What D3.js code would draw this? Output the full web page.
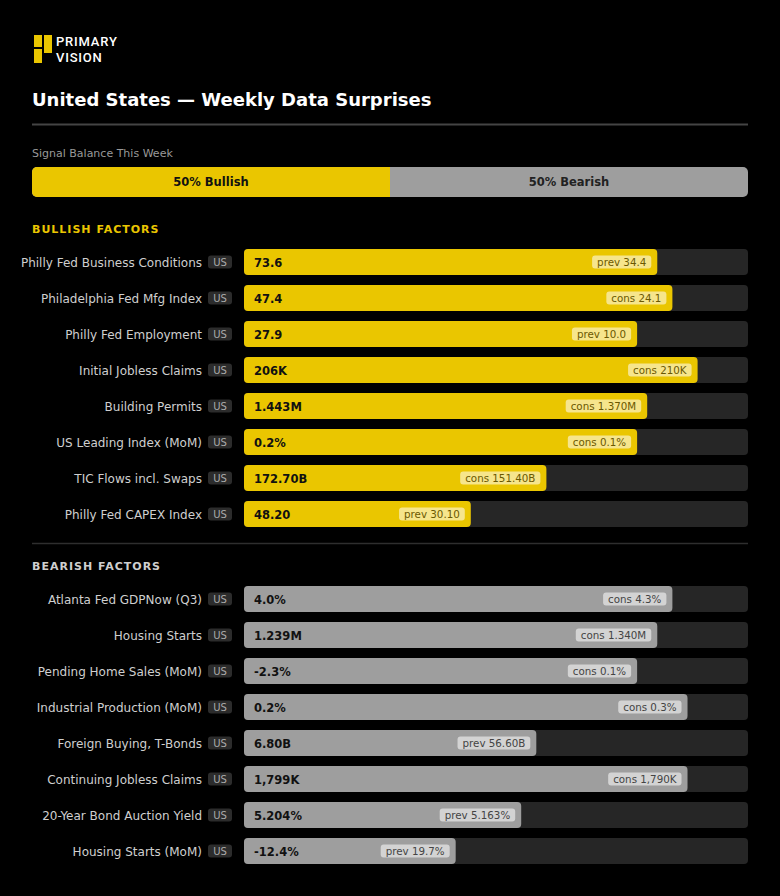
<!DOCTYPE html>
<html lang="en">
<head>
<meta charset="UTF-8">
<title>United States — Weekly Data Surprises</title>
<script src="https://cdn.jsdelivr.net/npm/d3@7"></script>
<style>
  body { margin: 0; background: #000; }
  svg { display: block; font-family: "DejaVu Sans", sans-serif; }
</style>
</head>
<body>
<svg width="780" height="896"></svg>
<script>
// bullish factors
var bullNames = ["Philly Fed Business Conditions", "Philadelphia Fed Mfg Index", "Philly Fed Employment",
  "Initial Jobless Claims", "Building Permits", "US Leading Index (MoM)", "TIC Flows incl. Swaps", "Philly Fed CAPEX Index"];
var bullValues = ["73.6", "47.4", "27.9", "206K", "1.443M", "0.2%", "172.70B", "48.20"];
var bullRefs = ["prev 34.4", "cons 24.1", "prev 10.0", "cons 210K", "cons 1.370M", "cons 0.1%", "cons 151.40B", "prev 30.10"];
var bullStrength = [82, 85, 78, 90, 80, 78, 60, 45];

// bearish factors
var bearNames = ["Atlanta Fed GDPNow (Q3)", "Housing Starts", "Pending Home Sales (MoM)", "Industrial Production (MoM)",
  "Foreign Buying, T-Bonds", "Continuing Jobless Claims", "20-Year Bond Auction Yield", "Housing Starts (MoM)"];
var bearValues = ["4.0%", "1.239M", "-2.3%", "0.2%", "6.80B", "1,799K", "5.204%", "-12.4%"];
var bearRefs = ["cons 4.3%", "cons 1.340M", "cons 0.1%", "cons 0.3%", "prev 56.60B", "cons 1,790K", "prev 5.163%", "prev 19.7%"];
var bearStrength = [85, 82, 78, 88, 58, 88, 55, 42];

var balance = [50, 50]; // bullish %, bearish %

var svg = d3.select("svg");
var YELLOW = "#eac600", GREY = "#9e9e9e";

// logo
var logo = svg.append("g");
logo.append("rect").attr("x", 34).attr("y", 35).attr("width", 8).attr("height", 12).attr("fill", YELLOW);
logo.append("rect").attr("x", 44).attr("y", 35).attr("width", 8).attr("height", 18).attr("fill", YELLOW);
logo.append("rect").attr("x", 34).attr("y", 49).attr("width", 8).attr("height", 14).attr("fill", YELLOW);
logo.append("text").attr("x", 56).attr("y", 46).text("PRIMARY").attr("letter-spacing", 0.8)
  .attr("fill", "#fff").attr("font-size", 13).attr("font-weight", 500).attr("font-family", "Roboto, sans-serif");
logo.append("text").attr("x", 56).attr("y", 61.5).text("VISION").attr("letter-spacing", 0.8)
  .attr("fill", "#fff").attr("font-size", 13).attr("font-weight", 500).attr("font-family", "Roboto, sans-serif");

// title
svg.append("text").attr("x", 32).attr("y", 106).text("United States — Weekly Data Surprises")
  .attr("fill", "#fff").attr("font-size", 18).attr("font-weight", "bold");
svg.append("line").attr("x1", 32).attr("x2", 748).attr("y1", 124.5).attr("y2", 124.5)
  .attr("stroke", "#444").attr("stroke-width", 2);

// balance bar
svg.append("text").attr("x", 32).attr("y", 157).text("Signal Balance This Week")
  .attr("fill", "#999").attr("font-size", 11);
var balX = d3.scaleLinear().domain([0, 100]).range([32, 748]);
svg.append("rect").attr("x", balX(0)).attr("y", 167).attr("width", balX(100) - balX(0)).attr("height", 30)
  .attr("rx", 5).attr("fill", GREY);
svg.append("rect").attr("x", balX(0)).attr("y", 167).attr("width", balX(balance[0]) - balX(0)).attr("height", 30)
  .attr("rx", 5).attr("fill", YELLOW);
svg.append("rect").attr("x", balX(balance[0]) - 6).attr("y", 167).attr("width", 6).attr("height", 30).attr("fill", YELLOW);
svg.append("text").attr("x", (balX(0) + balX(balance[0])) / 2).attr("y", 186).attr("text-anchor", "middle")
  .text(balance[0] + "% Bullish").attr("fill", "#111").attr("font-size", 11.5).attr("font-weight", "bold");
svg.append("text").attr("x", (balX(balance[0]) + balX(100)) / 2).attr("y", 186).attr("text-anchor", "middle")
  .text(balance[1] + "% Bearish").attr("fill", "#222").attr("font-size", 11.5).attr("font-weight", "bold");

var x = d3.scaleLinear().domain([0, 100]).range([0, 504]);
var trackX = 244;

function section(title, titleColor, titleY, top, names, values, refs, strength, fill, pillFill, pillText) {
  svg.append("text").attr("x", 32).attr("y", titleY).text(title)
    .attr("fill", titleColor).attr("font-size", 11).attr("font-weight", "bold").attr("letter-spacing", 1.0);

  var data = names.map(function(n, i) {
    return { name: n, value: values[i], ref: refs[i], strength: strength[i] };
  });
  var y = d3.scaleBand().domain(names).range([top, top + names.length * 36])
    .paddingInner(10 / 36).paddingOuter(5 / 36);

  var row = svg.append("g").selectAll("g").data(data).join("g")
    .attr("transform", function(d) { return "translate(0," + y(d.name) + ")"; });
  var h = y.bandwidth();

  row.append("text").attr("x", 202).attr("y", h / 2 + 4.5).attr("text-anchor", "end")
    .text(function(d) { return d.name; }).attr("fill", "#cfcfcf").attr("font-size", 12);
  row.append("rect").attr("x", 208).attr("y", h / 2 - 6.5).attr("width", 24).attr("height", 13).attr("rx", 3)
    .attr("fill", "#2c2c2c");
  row.append("text").attr("x", 220).attr("y", h / 2 + 3.5).attr("text-anchor", "middle").text("US")
    .attr("fill", "#aaa").attr("font-size", 10);

  row.append("rect").attr("x", trackX).attr("width", x(100)).attr("height", h).attr("rx", 4).attr("fill", "#262626");
  row.append("rect").attr("x", trackX).attr("width", function(d) { return x(d.strength); }).attr("height", h)
    .attr("rx", 4).attr("fill", fill);
  row.append("text").attr("x", trackX + 10).attr("y", h / 2 + 4.5).text(function(d) { return d.value; })
    .attr("fill", "#111").attr("font-size", 11.5).attr("font-weight", "bold");

  var pill = row.append("g");
  var pt = pill.append("text").attr("text-anchor", "end").attr("y", h / 2 + 4)
    .attr("x", function(d) { return trackX + x(d.strength) - 11; })
    .text(function(d) { return d.ref; }).attr("fill", pillText).attr("font-size", 10.3);
  pill.insert("rect", "text").attr("y", h / 2 - 6.5).attr("height", 13).attr("rx", 3).attr("fill", pillFill)
    .each(function(d, i) {
      var w = pt.nodes()[i].getComputedTextLength() + 10;
      d3.select(this).attr("x", trackX + x(d.strength) - 6 - w).attr("width", w);
    });
}

section("BULLISH FACTORS", YELLOW, 233, 244, bullNames, bullValues, bullRefs, bullStrength,
  YELLOW, "rgba(255,255,255,0.55)", "#6b5800");

svg.append("line").attr("x1", 32).attr("x2", 748).attr("y1", 543.5).attr("y2", 543.5)
  .attr("stroke", "#2e2e2e").attr("stroke-width", 1.5);

section("BEARISH FACTORS", "#cfcfcf", 570, 581, bearNames, bearValues, bearRefs, bearStrength,
  GREY, "rgba(255,255,255,0.55)", "#444");
</script>
</body>
</html>
